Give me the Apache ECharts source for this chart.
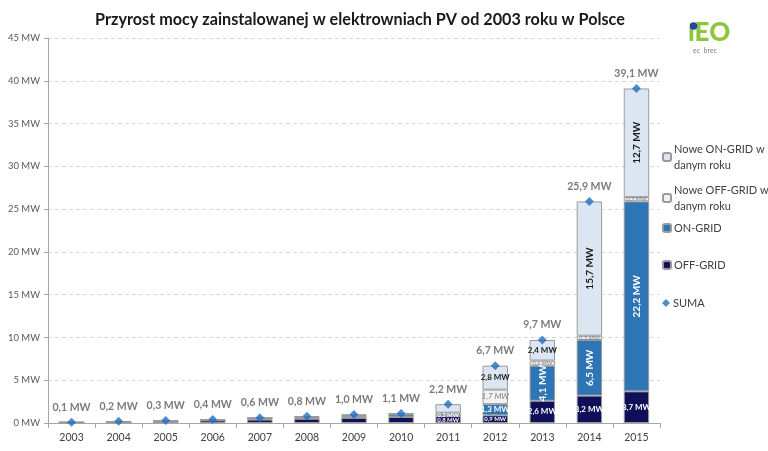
<!DOCTYPE html>
<html>
<head>
<meta charset="utf-8">
<script src="https://cdn.jsdelivr.net/npm/echarts@6/dist/echarts.min.js"></script>
<style>html,body{margin:0;padding:0;background:#fff}#c{width:768px;height:451px}</style>
</head>
<body>
<div id="c"></div>
<script>
const years = ['2003','2004','2005','2006','2007','2008','2009','2010','2011','2012','2013','2014','2015'];
const offGrid = [0.05,0.1,0.2,0.3,0.4,0.5,0.6,0.7,0.8,0.9,2.6,3.2,3.7];
const onGrid  = [0,0,0,0,0.1,0.1,0.2,0.3,0.3,1.3,4.1,6.5,22.2];
const newOff  = [0.05,0.05,0.05,0.05,0.1,0.1,0.1,0.1,0.1,1.7,0.6,0.5,0.5];
const newOn   = [0,0.05,0.05,0.05,0,0.1,0.1,0,1.0,2.8,2.4,15.7,12.7];
const suma    = [0.1,0.2,0.3,0.4,0.6,0.8,1.0,1.1,2.2,6.7,9.7,25.9,39.1];
const yTicks  = [0,5,10,15,20,25,30,35,40,45];

const FONT = 'Lato, "Open Sans", sans-serif';
const fmt = v => v.toFixed(1).replace('.', ',') + ' MW';

function segData(vals, firstIdx, color, extra) {
  return vals.map((v, i) => {
    const show = i >= firstIdx && v > 0;
    const big = v >= 4;
    return {
      value: v,
      label: Object.assign({
        show: show,
        position: 'inside',
        rotate: big ? 90 : 0,
        fontSize: big ? 10 : (v < 1 ? 6 : 8),
        fontWeight: 'bold',
        fontFamily: FONT,
        color: color,
        formatter: p => fmt(p.value)
      }, extra || {})
    };
  });
}

const border = { borderColor: '#9a9a9a', borderWidth: 1 };

const chart = echarts.init(document.getElementById('c'));
chart.setOption({
  animation: false,
  backgroundColor: '#ffffff',
  title: {
    text: 'Przyrost mocy zainstalowanej w elektrowniach PV od 2003 roku w Polsce',
    left: 355, textAlign: 'center', top: 7,
    textStyle: { fontFamily: FONT, fontSize: 16.2, fontWeight: 'bold', color: '#1a1a1a' }
  },
  grid: { left: 48, right: 108, top: 38, bottom: 28 },
  legend: [
    { data: ['Nowe ON-GRID w\ndanym roku'], left: 662, top: 141 },
    { data: ['Nowe OFF-GRID w\ndanym roku'], left: 662, top: 182 },
    { data: ['ON-GRID'], left: 662, top: 220 },
    { data: ['OFF-GRID'], left: 662, top: 257 },
    { data: ['SUMA'], left: 662, top: 295 }
  ].map(l => Object.assign(l, {
    orient: 'vertical', itemWidth: 8, itemHeight: 8, itemGap: 4, padding: 0,
    textStyle: { fontFamily: FONT, fontSize: 11, color: '#404040', lineHeight: 16, padding: [0, 0, 0, -2] }
  })),
  xAxis: {
    type: 'category', data: years,
    axisLine: { lineStyle: { color: '#a6a6a6' } },
    axisTick: { show: true, alignWithLabel: false, length: 5, lineStyle: { color: '#a6a6a6' } },
    axisLabel: { fontFamily: FONT, fontSize: 10.5, color: '#404040', margin: 9 }
  },
  yAxis: {
    type: 'value', min: 0, max: 45, interval: 5,
    axisLine: { show: true, lineStyle: { color: '#a6a6a6' } },
    axisTick: { show: true, length: 4, inside: false, lineStyle: { color: '#a6a6a6' } },
    axisLabel: { fontFamily: FONT, fontSize: 9.5, color: '#595959', margin: 8,
      formatter: v => yTicks.includes(v) ? v + ' MW' : '' },
    splitLine: { lineStyle: { color: '#d9d9d9', type: [4, 3] } }
  },
  series: [
    { name: 'OFF-GRID', type: 'bar', stack: 'a', barWidth: '54%',
      itemStyle: Object.assign({ color: '#10105a' }, border),
      data: segData(offGrid, 8, '#ffffff') },
    { name: 'ON-GRID', type: 'bar', stack: 'a',
      itemStyle: Object.assign({ color: '#2e75b6' }, border),
      data: segData(onGrid, 8, '#ffffff') },
    { name: 'Nowe OFF-GRID w\ndanym roku', type: 'bar', stack: 'a',
      itemStyle: Object.assign({ color: '#f2f2f2' }, border),
      data: segData(newOff, 9, '#7f7f7f', { fontStyle: 'italic', fontWeight: 'normal' }) },
    { name: 'Nowe ON-GRID w\ndanym roku', type: 'bar', stack: 'a',
      itemStyle: Object.assign({ color: '#dce6f2' }, border),
      data: segData(newOn, 9, '#1a1a1a') },
    { name: 'SUMA', type: 'scatter', symbol: 'diamond', symbolSize: 9, z: 5,
      itemStyle: { color: '#1f6fc0' },
      label: { show: true, position: 'top', distance: 5, fontFamily: FONT, fontSize: 10.5,
        fontWeight: 'bold', color: '#595959', formatter: p => fmt(p.value) },
      data: suma }
  ],
  graphic: [
    { type: 'text', left: 688, top: 20,
      style: { text: '\u0131EO', fontFamily: FONT, fontSize: 26, fontWeight: 900, fill: '#8cc63f' } },
    { type: 'circle', shape: { cx: 693.5, cy: 26, r: 3.8 }, style: { fill: '#1b4a9c' } },
    { type: 'text', left: 693, top: 47,
      style: { text: 'ec  brec', fontFamily: FONT, fontSize: 7, fill: '#808080', letterSpacing: 2 } }
  ]
});
</script>
</body>
</html>
